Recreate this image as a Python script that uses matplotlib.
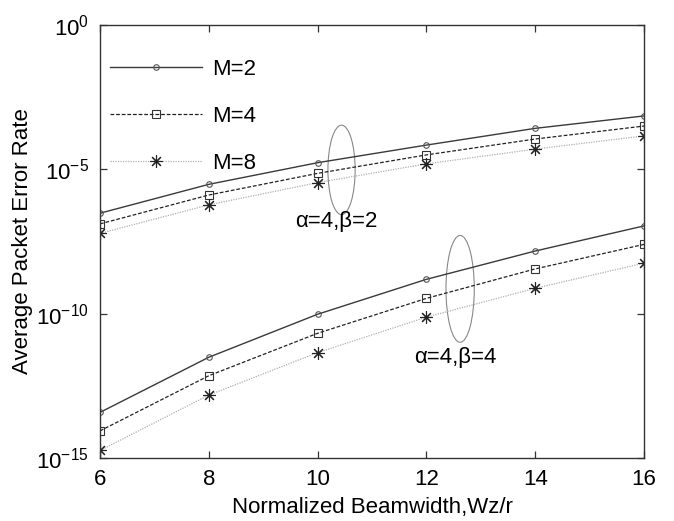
import numpy as np
import matplotlib
matplotlib.use('Agg')
import matplotlib.pyplot as plt
from matplotlib.patches import Ellipse

plt.rcParams['font.family'] = ['Liberation Sans', 'DejaVu Sans']
plt.rcParams['mathtext.fontset'] = 'custom'
plt.rcParams['mathtext.rm'] = 'Liberation Sans'
plt.rcParams['mathtext.it'] = 'Liberation Sans:italic'
plt.rcParams['mathtext.bf'] = 'Liberation Sans:bold'

# beamwidth values
wz = [6, 8, 10, 12, 14, 16]

# log10 of packet error rate, alpha=4, beta=2
per_b2_m2 = [-6.52, -5.52, -4.77, -4.16, -3.58, -3.15]
per_b2_m4 = [-6.89, -5.89, -5.14, -4.50, -3.95, -3.50]
per_b2_m8 = [-7.22, -6.23, -5.46, -4.81, -4.30, -3.84]

# log10 of packet error rate, alpha=4, beta=4
per_b4_m2 = [-13.42, -11.51, -10.02, -8.81, -7.83, -6.96]
per_b4_m4 = [-14.06, -12.15, -10.68, -9.47, -8.45, -7.60]
per_b4_m8 = [-14.74, -12.82, -11.35, -10.12, -9.12, -8.25]

labels = ['M=2', 'M=4', 'M=8']
xticks = [6, 8, 10, 12, 14, 16]
ydecades = [0, -5, -10, -15]

# group annotations: (x centre, log10 centre, x width, decades tall, text x, text log10)
grp_b2 = (10.44, -5.02, 0.5, 3.1, 10.34, -6.79)
grp_b4 = (12.62, -9.14, 0.52, 3.7, 12.53, -11.53)
grp_text = ['α=4,β=2', 'α=4,β=4']

styles = [
    dict(color='#3a3a3a', ls='-', lw=1.0, marker='o', ms=4, mfc='none', mec='#555555', mew=0.8),
    dict(color='#222222', ls=(0, (3, 1.5)), lw=0.9, marker='s', ms=6, mfc='none', mec='#333333', mew=0.8),
    dict(color='#b0b0b0', ls=(0, (1, 1)), lw=0.9, marker=(8, 2, 0), ms=9, mfc='none', mec='#222222', mew=0.8),
]

fig = plt.figure(figsize=(6.74, 5.21), dpi=100)
ax = fig.add_axes([100 / 674, 1 - 458 / 521, 544 / 674, 433 / 521])

b2 = [per_b2_m2, per_b2_m4, per_b2_m8]
b4 = [per_b4_m2, per_b4_m4, per_b4_m8]
for i in range(3):
    ax.plot(wz, 10.0 ** np.array(b2[i]), label=labels[i], **styles[i])
    ax.plot(wz, 10.0 ** np.array(b4[i]), **styles[i])

ax.set_yscale('log')
ax.set_xlim(6, 16)
ax.set_ylim(1e-15, 1)
ax.set_xticks(xticks)
ax.set_xticklabels([str(v) for v in xticks])
ax.set_yticks([10.0 ** d for d in ydecades])
ax.set_yticklabels([r'$\mathregular{10^{%d}}$' % d for d in ydecades])
ax.minorticks_off()
ax.tick_params(direction='in', top=True, right=True, length=5, width=0.9,
               labelsize=16, color='#333333', pad=8)
for s in ax.spines.values():
    s.set_linewidth(1.0)
    s.set_color('#333333')

ax.set_xlabel('Normalized Beamwidth,Wz/r', fontsize=16, labelpad=5)
ax.set_ylabel('Average Packet Error Rate', fontsize=16, labelpad=2)

# ellipses drawn in axes fraction so they stay round on the log axis
for (cx, cy, w, h, tx, ty), txt in zip([grp_b2, grp_b4], grp_text):
    fx = (cx - 6) / 10
    fy = (cy + 15) / 15
    ax.add_patch(Ellipse((fx, fy), w / 10, h / 15, transform=ax.transAxes,
                         fill=False, ec='#888888', lw=0.8))
    ax.text(tx, 10.0 ** ty, txt, fontsize=16, ha='center', va='center')

leg = ax.legend(loc='upper left', frameon=False, fontsize=16, handlelength=4.15,
                labelspacing=1.18, handletextpad=0.45, borderaxespad=0.0,
                bbox_to_anchor=(0.002, 0.943))

fig.savefig('out.png', dpi=100)
